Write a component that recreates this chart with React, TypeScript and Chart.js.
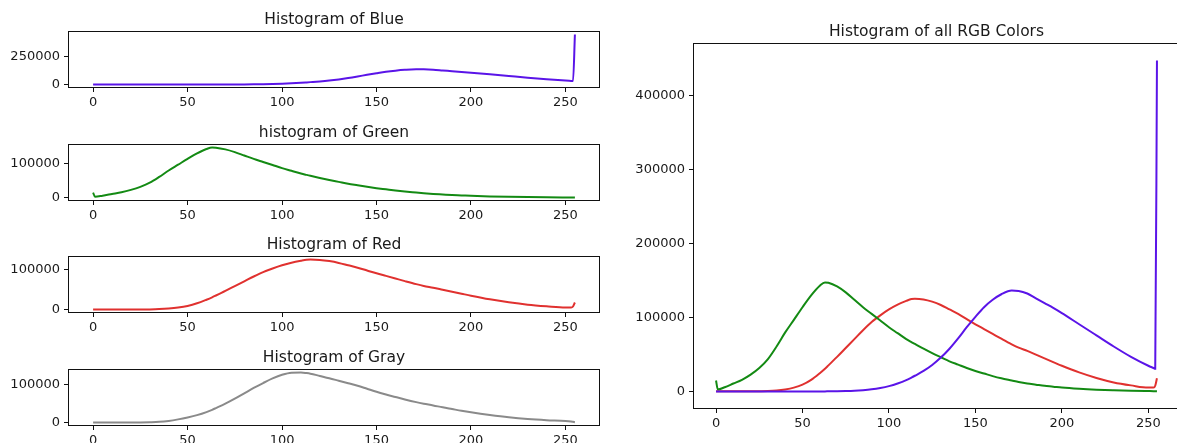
import React, { useEffect, useRef } from "react";
import { Chart, registerables } from "chart.js";

Chart.register(...registerables);

// Pixel intensity levels
const levels = [
  0, 1, 5, 10, 15, 20, 25, 30, 35, 40,
  45, 50, 55, 60, 63, 65, 70, 75, 80, 85,
  90, 95, 100, 105, 110, 113, 115, 120, 125, 130,
  135, 140, 145, 150, 155, 160, 165, 171, 175, 180,
  185, 190, 195, 200, 210, 220, 230, 240, 250, 253,
  254, 255,
];

const blueCounts = [
  300, 300, 300, 300, 300, 300, 300, 300, 300, 300,
  300, 300, 300, 400, 400, 500, 600, 800, 1200, 2000,
  3200, 5000, 7500, 11000, 15500, 19000, 21500, 28000, 36000, 46000,
  58000, 72000, 87000, 101000, 114000, 124000, 131500, 136500, 136000, 132500,
  126000, 119500, 113000, 106000, 91000, 76000, 61000, 47000, 35000, 32000,
  31000, 447000,
];

const greenCounts = [
  15000, 3000, 6000, 11000, 16000, 23000, 32000, 44000, 61000, 80000,
  97000, 114000, 130000, 143000, 147500, 147000, 142000, 134000, 124000, 114000,
  105000, 96000, 87000, 79000, 71000, 67000, 64500, 58000, 52000, 46500,
  41000, 36500, 32000, 28000, 24500, 21000, 18000, 15000, 13000, 11000,
  9500, 8000, 6800, 5500, 3800, 2600, 1800, 1200, 800, 700,
  700, 600,
];

const redCounts = [
  500, 500, 500, 500, 500, 500, 600, 800, 1500, 3000,
  5500, 9500, 16000, 25000, 31000, 35500, 47000, 59000, 71000, 83000,
  94000, 103000, 111000, 117500, 122500, 125000, 125500, 124500, 121500, 117000,
  111000, 105000, 98000, 91000, 84500, 78000, 71500, 64000, 59500, 55000,
  50000, 45000, 40000, 35000, 26000, 18500, 12500, 8500, 5500, 5500,
  8000, 18000,
];

const grayCounts = [
  800, 800, 800, 800, 800, 900, 1000, 1500, 2500, 5000,
  9000, 14000, 20000, 28000, 34000, 38500, 50000, 63000, 77000, 91000,
  104000, 116000, 125500, 131000, 131500, 130000, 128500, 122500, 116500, 110000,
  103500, 97000, 89000, 81000, 74000, 67500, 61000, 54000, 50000, 45500,
  40500, 36000, 31500, 27500, 20500, 14500, 10000, 7000, 5000, 3500,
  2500, 1500,
];

const xTicks = [0, 50, 100, 150, 200, 250];
const blueYTicks = [0, 250000];
const singleYTicks = [0, 100000];
const rgbYTicks = [0, 100000, 200000, 300000, 400000];

const titles = [
  "Histogram of Blue",
  "histogram of Green",
  "Histogram of Red",
  "Histogram of Gray",
  "Histogram of all RGB Colors",
];

const BLUE = "#5a14e8";
const GREEN = "#138a13";
const RED = "#e0312f";
const GRAY = "#8a8a8a";

const H = 443;
const FONT = "'DejaVu Sans', 'Liberation Sans', sans-serif";
const TEXT = "#1a1a1a";

type Series = { values: number[]; color: string };
type Box = { left: number; top: number; right: number; bottom: number };

const framePlugin = {
  id: "frame",
  afterDatasetsDraw(chart: any, _args: any, opts: any) {
    const { ctx, chartArea } = chart;
    const { left, top, right, bottom } = chartArea;
    ctx.save();
    ctx.strokeStyle = "#111";
    ctx.lineWidth = 1;
    ctx.strokeRect(Math.round(left) - 0.5, Math.round(top) - 0.5, Math.round(right - left) + 1, Math.round(bottom - top) + 1);
    ctx.restore();
    if (opts && opts.title) {
      ctx.save();
      ctx.fillStyle = TEXT;
      ctx.font = `15.5px ${FONT}`;
      ctx.textAlign = "center";
      ctx.textBaseline = "alphabetic";
      ctx.fillText(opts.title, (left + right) / 2, top - 8.5);
      ctx.restore();
    }
  },
};

function Panel(props: { title: string; series: Series[]; yTicks: number[]; box: Box; canvasWidth: number }) {
  const ref = useRef<HTMLCanvasElement>(null);
  const { title, series, yTicks, box, canvasWidth } = props;
  useEffect(() => {
    if (!ref.current) return;
    const all = series.flatMap((s) => s.values);
    const lo = Math.min(...all);
    const hi = Math.max(...all);
    const ym = (hi - lo) * 0.05;
    const xlo = Math.min(...levels);
    const xhi = Math.max(...levels);
    const xm = (xhi - xlo) * 0.05;
    const tickFont = { family: FONT, size: 13 };
    const chart = new Chart(ref.current, {
      type: "line",
      data: {
        datasets: series.map((s) => ({
          data: levels.map((x, i) => ({ x, y: s.values[i] })),
          borderColor: s.color,
          backgroundColor: s.color,
          borderWidth: 2,
          pointRadius: 0,
          fill: false,
          cubicInterpolationMode: "monotone" as const,
        })),
      },
      options: {
        responsive: false,
        animation: false,
        events: [],
        layout: { padding: { left: 0, top: box.top, right: canvasWidth - box.right, bottom: 0 } },
        plugins: {
          legend: { display: false },
          tooltip: { enabled: false },
          title: { display: false },
          frame: { title },
        } as any,
        scales: {
          x: {
            type: "linear",
            min: xlo - xm,
            max: xhi + xm,
            afterBuildTicks: (s: any) => {
              s.ticks = xTicks.map((v) => ({ value: v }));
            },
            afterFit: (s: any) => {
              s.height = H - box.bottom;
            },
            grid: { display: true, drawOnChartArea: false, drawTicks: true, tickLength: 5, color: "#111" },
            border: { display: false },
            ticks: {
              font: tickFont,
              color: TEXT,
              padding: 3,
              maxRotation: 0,
              autoSkip: false,
              callback: (v: any) => String(v),
            },
          },
          y: {
            type: "linear",
            min: lo - ym,
            max: hi + ym,
            afterBuildTicks: (s: any) => {
              s.ticks = yTicks.map((v) => ({ value: v }));
            },
            afterFit: (s: any) => {
              s.width = box.left;
            },
            grid: { display: true, drawOnChartArea: false, drawTicks: true, tickLength: 5, color: "#111" },
            border: { display: false },
            ticks: {
              font: tickFont,
              color: TEXT,
              padding: 4,
              autoSkip: false,
              callback: (v: any) => String(v),
            },
          },
        },
      } as any,
      plugins: [framePlugin],
    });
    return () => chart.destroy();
  }, []);
  return (
    <canvas
      ref={ref}
      width={canvasWidth}
      height={H}
      style={{ position: "absolute", left: 0, top: 0, width: canvasWidth, height: H }}
    />
  );
}

export default function App() {
  const leftW = 1177;
  return (
    <div
      style={{
        position: "absolute",
        left: 0,
        top: 0,
        width: 1177,
        height: H,
        overflow: "hidden",
        background: "#fff",
      }}
    >
      <Panel title={titles[0]} series={[{ values: blueCounts, color: BLUE }]} yTicks={blueYTicks} box={{ left: 69, top: 32, right: 599, bottom: 87 }} canvasWidth={leftW} />
      <Panel title={titles[1]} series={[{ values: greenCounts, color: GREEN }]} yTicks={singleYTicks} box={{ left: 69, top: 145, right: 599, bottom: 200 }} canvasWidth={leftW} />
      <Panel title={titles[2]} series={[{ values: redCounts, color: RED }]} yTicks={singleYTicks} box={{ left: 69, top: 257, right: 599, bottom: 312 }} canvasWidth={leftW} />
      <Panel title={titles[3]} series={[{ values: grayCounts, color: GRAY }]} yTicks={singleYTicks} box={{ left: 69, top: 370, right: 599, bottom: 425 }} canvasWidth={leftW} />
      <Panel
        title={titles[4]}
        series={[
          { values: blueCounts, color: BLUE },
          { values: greenCounts, color: GREEN },
          { values: redCounts, color: RED },
        ]}
        yTicks={rgbYTicks}
        box={{ left: 694, top: 44, right: 1179, bottom: 408 }}
        canvasWidth={1192}
      />
    </div>
  );
}
